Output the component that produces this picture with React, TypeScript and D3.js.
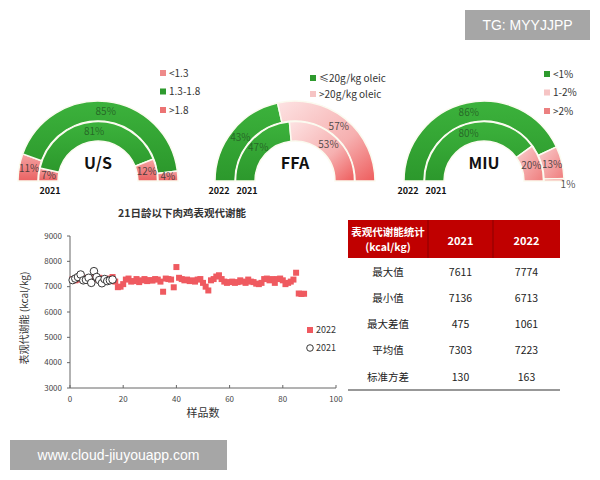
import React from 'react';
import * as d3 from 'd3';

// ---------- DATA ----------
const usLabels = ['<1.3', '1.3-1.8', '>1.8'];
const us2022 = [11, 85, 4];
const us2021 = [7, 81, 12];

const ffaLabels = ['≤20g/kg oleic', '>20g/kg oleic'];
const ffa2022 = [43, 57];
const ffa2021 = [47, 53];

const miuLabels = ['<1%', '1-2%', '>2%'];
const miu2022 = [86, 13, 1];
const miu2021 = [80, 20, 0];

const me2021 = [7260, 7320, 7380, 7480, 7250, 7270, 7350, 7150, 7611, 7380, 7260, 7136, 7300, 7220, 7250, 7280];
const me2022 = [
  7300, 7250, 7320, 7280, 7350, 7300, 7260, 7330, 7290, 7310,
  7350, 7280, 7300, 7250, 7320, 7380, 7200, 6980, 7000, 7100,
  7280, 7320, 7200, 7220, 7300, 7180, 7250, 7300, 7220, 7260,
  7240, 7300, 7280, 7200, 6800, 7320, 7300, 7280, 6975, 7774,
  7350, 7300, 7250, 7280, 7220, 7250, 7200, 7280, 7300, 7150,
  7000, 6850, 7250, 7300, 7400, 7450, 7300, 7200, 7150, 7180,
  7200, 7150, 7180, 7250, 7200, 7150, 7280, 7200, 7180, 7120,
  7100, 7150, 7300, 7320, 7250, 7300, 7150, 7300, 7320, 7250,
  7100, 7150, 7200, 7280, 7550, 6730, 6713, 6720,
];
const yTicks = [3000, 4000, 5000, 6000, 7000, 8000, 9000];
const xTicks = [0, 20, 40, 60, 80, 100];

const statRows = ['最大值', '最小值', '最大差值', '平均值', '标准方差'];
const stat2021 = [7611, 7136, 475, 7303, 130];
const stat2022 = [7774, 6713, 1061, 7223, 163];

// ---------- GAUGE ----------
type GaugeProps = {
  cx: number; cy: number; title: string;
  labels: string[]; outer: number[]; inner: number[];
  fills: string[]; legendFills: string[];
  legendX: number; legendY: number; legendStep: number;
  years: string[];
};

function Gauge(p: GaugeProps) {
  const rings = [
    { vals: p.outer, r0: 60, r1: 80 },
    { vals: p.inner, r0: 40, r1: 59.5 },
  ];
  return (
    <g>
      {rings.map((ring, ri) => {
        const total = d3.sum(ring.vals);
        let acc = 0;
        const arc = d3.arc<any>().innerRadius(ring.r0).outerRadius(ring.r1);
        return ring.vals.map((v, i) => {
          const a0 = -Math.PI / 2 + (acc / total) * Math.PI;
          acc += v;
          const a1 = -Math.PI / 2 + (acc / total) * Math.PI;
          if (v <= 0) return null;
          const d = { startAngle: a0, endAngle: a1 };
          let [lx, ly] = arc.centroid(d);
          if (v < 3) { lx = ring.r1 + 4; ly = 3; }
          return (
            <g key={`${ri}-${i}`} transform={`translate(${p.cx},${p.cy})`}>
              <path d={arc(d) as string} fill={p.fills[i]} stroke="#fbfbf0" strokeWidth={1.5} />
              <text x={lx} y={ly} dy="0.35em" textAnchor="middle" fontSize={10}
                fill={p.fills[i].includes('Green') ? '#245c24' : '#333'}
                fillOpacity={0.85}>{v}%</text>
            </g>
          );
        });
      })}
      <text x={p.cx} y={p.cy - 12} textAnchor="middle" fontSize={16} fontWeight="bold" fill="#111">{p.title}</text>
      {p.years.map((y, i) => (
        y ? <text key={i} x={p.cx - (i === 0 ? 76 : 48)} y={p.cy + 13} textAnchor="middle" fontSize={9} fontWeight="bold" fill="#111">{y}</text> : null
      ))}
      {p.labels.map((l, i) => (
        <g key={l}>
          <rect x={p.legendX - 3} y={p.legendY + i * p.legendStep - 3} width={6} height={6} fill={p.legendFills[i]} />
          <text x={p.legendX + 6} y={p.legendY + i * p.legendStep} dy="0.35em" fontSize={10} fill="#333">{l}</text>
        </g>
      ))}
    </g>
  );
}

// ---------- APP ----------
export default function App() {
  const x = d3.scaleLinear().domain([0, 100]).range([70, 336]);
  const y = d3.scaleLinear().domain([3000, 9000]).range([388, 236]);
  const font = "'Noto Sans CJK SC', 'Liberation Sans', sans-serif";

  const tableX = [348, 428, 493, 560];
  const rowY = d3.scalePoint<number>().domain(statRows.map((_, i) => i)).range([272, 377]);

  return (
    <svg width={600} height={480} style={{ position: 'absolute', left: 0, top: 0, background: '#fff' }} fontFamily={font}>
      <defs>
        <linearGradient id="gGreen" x1="0" y1="0" x2="0" y2="1">
          <stop offset="0" stopColor="#3cb23c" />
          <stop offset="1" stopColor="#2c982c" />
        </linearGradient>
        <linearGradient id="gRed" x1="0" y1="0" x2="0" y2="1">
          <stop offset="0" stopColor="#f4a3a3" />
          <stop offset="1" stopColor="#ea6262" />
        </linearGradient>
        <linearGradient id="gPinkBig" x1="0" y1="0" x2="1" y2="1">
          <stop offset="0" stopColor="#fde3e3" />
          <stop offset="0.6" stopColor="#f6b0b0" />
          <stop offset="1" stopColor="#ee5c5c" />
        </linearGradient>
        <linearGradient id="gPinkLight" x1="0" y1="0" x2="1" y2="1">
          <stop offset="0" stopColor="#fad0d0" />
          <stop offset="1" stopColor="#ef7c7c" />
        </linearGradient>
      </defs>
      <rect width={600} height={480} fill="#fff" />

      <Gauge cx={98} cy={181} title="U/S" labels={usLabels} outer={us2022} inner={us2021}
        fills={['url(#gRed)', 'url(#gGreen)', 'url(#gRed)']}
        legendFills={['#ee8a8a', '#2e9a2e', '#ec7373']}
        legendX={163} legendY={73} legendStep={18.5} years={['', '2021']} />
      <Gauge cx={295} cy={181} title="FFA" labels={ffaLabels} outer={ffa2022} inner={ffa2021}
        fills={['url(#gGreen)', 'url(#gPinkBig)']}
        legendFills={['#2e9a2e', '#f6c4c4']}
        legendX={313} legendY={78} legendStep={16} years={['2022', '2021']} />
      <Gauge cx={484} cy={181} title="MIU" labels={miuLabels} outer={miu2022} inner={miu2021}
        fills={['url(#gGreen)', 'url(#gPinkLight)', 'url(#gRed)']}
        legendFills={['#2e9a2e', '#f6c4c4', '#ec8080']}
        legendX={547} legendY={74} legendStep={18.5} years={['2022', '2021']} />

      {/* Scatter */}
      <text x={182} y={217} textAnchor="middle" fontSize={10.5} fontWeight="bold" fill="#333">21日龄以下肉鸡表观代谢能</text>
      <line x1={x(0)} x2={x(0)} y1={y(9000)} y2={y(3000)} stroke="#666" strokeWidth={1} />
      <line x1={x(0)} x2={x(100)} y1={y(3000)} y2={y(3000)} stroke="#666" strokeWidth={1} />
      {yTicks.map(t => (
        <g key={t}>
          <line x1={x(0) - 3} x2={x(0)} y1={y(t)} y2={y(t)} stroke="#666" />
          <text x={x(0) - 8} y={y(t)} dy="0.35em" textAnchor="end" fontSize={8} fill="#444">{t}</text>
        </g>
      ))}
      {xTicks.map(t => (
        <g key={t}>
          <line x1={x(t)} x2={x(t)} y1={y(3000)} y2={y(3000) - 3} stroke="#666" />
          <text x={x(t)} y={y(3000) + 14} textAnchor="middle" fontSize={8} fill="#444">{t}</text>
        </g>
      ))}
      <text x={203} y={417} textAnchor="middle" fontSize={11} fill="#333">样品数</text>
      <text transform={`translate(28,${(y(9000) + y(3000)) / 2 + 6}) rotate(-90)`} textAnchor="middle" fontSize={10} fill="#333">表观代谢能 (kcal/kg)</text>
      {me2022.map((v, i) => (
        <rect key={i} x={x(i + 1) - 3} y={y(v) - 3} width={6} height={6} fill="#ef5a60" />
      ))}
      {me2021.map((v, i) => (
        <circle key={i} cx={x(i + 1)} cy={y(v)} r={3.8} fill="#fff" stroke="#222" strokeWidth={0.9} />
      ))}
      <rect x={307} y={327} width={6} height={6} fill="#ef5a60" />
      <text x={316} y={330} dy="0.35em" fontSize={9} fill="#333">2022</text>
      <circle cx={310} cy={348} r={3.3} fill="#fff" stroke="#222" strokeWidth={0.9} />
      <text x={316} y={348} dy="0.35em" fontSize={9} fill="#333">2021</text>

      {/* Table */}
      <rect x={tableX[0]} y={220} width={tableX[3] - tableX[0]} height={38} fill="#c00000" />
      <line x1={tableX[1]} x2={tableX[1]} y1={220} y2={258} stroke="#8a0000" strokeWidth={1} />
      <line x1={tableX[2]} x2={tableX[2]} y1={220} y2={258} stroke="#8a0000" strokeWidth={1} />
      <text x={(tableX[0] + tableX[1]) / 2} y={232} dy="0.35em" textAnchor="middle" fontSize={10.5} fontWeight="bold" fill="#fff">表观代谢能统计</text>
      <text x={(tableX[0] + tableX[1]) / 2} y={247} dy="0.35em" textAnchor="middle" fontSize={10.5} fontWeight="bold" fill="#fff">(kcal/kg)</text>
      <text x={(tableX[1] + tableX[2]) / 2} y={241} dy="0.35em" textAnchor="middle" fontSize={11} fontWeight="bold" fill="#fff">2021</text>
      <text x={(tableX[2] + tableX[3]) / 2} y={241} dy="0.35em" textAnchor="middle" fontSize={11} fontWeight="bold" fill="#fff">2022</text>
      {statRows.map((r, i) => (
        <g key={r}>
          <text x={(tableX[0] + tableX[1]) / 2} y={rowY(i)} dy="0.35em" textAnchor="middle" fontSize={10.5} fill="#222">{r}</text>
          <text x={(tableX[1] + tableX[2]) / 2} y={rowY(i)} dy="0.35em" textAnchor="middle" fontSize={10.5} fill="#222">{stat2021[i]}</text>
          <text x={(tableX[2] + tableX[3]) / 2} y={rowY(i)} dy="0.35em" textAnchor="middle" fontSize={10.5} fill="#222">{stat2022[i]}</text>
        </g>
      ))}
      <line x1={tableX[0]} x2={tableX[3]} y1={390} y2={390} stroke="#333" strokeWidth={1.2} />

      {/* Overlays */}
      <rect x={465} y={10} width={125} height={30} fill="#a6a6a6" />
      <text x={527.5} y={25} dy="0.35em" textAnchor="middle" fontSize={14} fill="#fff" fontFamily="'Liberation Sans', sans-serif">TG: MYYJJPP</text>
      <rect x={10} y={440} width={217} height={30} fill="#a6a6a6" />
      <text x={118.5} y={455} dy="0.35em" textAnchor="middle" fontSize={14} fill="#fff" fontFamily="'Liberation Sans', sans-serif">www.cloud-jiuyouapp.com</text>
    </svg>
  );
}
